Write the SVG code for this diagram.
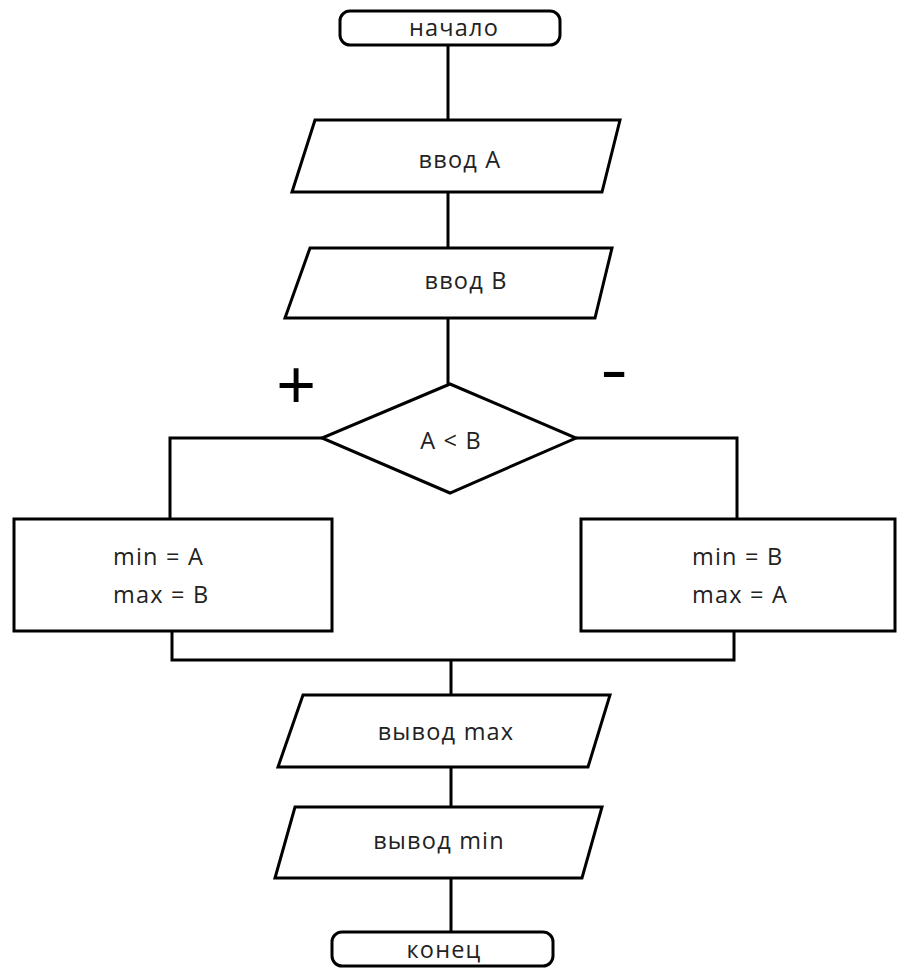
<svg xmlns="http://www.w3.org/2000/svg" width="897" height="971" viewBox="0 0 897 971">
<style>
.s{fill:#fff;stroke:#000;stroke-width:3;stroke-linejoin:miter}
.c{fill:none;stroke:#000;stroke-width:3}
.t{font-family:"Open Sans","Noto Sans",sans-serif;font-size:23.5px;letter-spacing:1.2px;fill:#222;text-anchor:middle}
.l{font-family:"Open Sans","Noto Sans",sans-serif;font-size:23.5px;letter-spacing:1.2px;fill:#222}
.m{font-family:"Liberation Sans",Arial,sans-serif;fill:#000;text-anchor:middle}
</style>
<rect width="897" height="971" fill="#fff"/>
<g id="connectors">
<path class="c" d="M448 45V120M448 192V248M448 318V384"/>
<path class="c" d="M322 438H170V519M576 438H737V519"/>
<path class="c" d="M172 631V660H734V631M451 660V695M451 767V807M451 878V932"/>
</g>
<g id="start"><rect class="s" x="340" y="11" width="220" height="34" rx="10"/><text class="t" x="454" y="36">начало</text></g>
<g id="inA"><polygon class="s" points="315,120 620,120 602,192 292,192"/><text class="t" x="460" y="168">ввод A</text></g>
<g id="inB"><polygon class="s" points="310,248 612,248 595,318 285,318"/><text class="t" x="466" y="289">ввод B</text></g>
<g id="cond"><polygon class="s" points="450,384 576,438 450,493 322,438"/><text class="t" x="451" y="449">A &lt; B</text>
<text class="m" x="296" y="408" font-size="68">+</text>
<text class="m" transform="translate(614,392) scale(1.3,1)" x="0" y="0" font-size="64">-</text></g>
<g id="yes"><rect class="s" x="14" y="519" width="318" height="112"/><text class="l" x="113" y="565">min = A</text><text class="l" x="113" y="603">max = B</text></g>
<g id="no"><rect class="s" x="581" y="519" width="314" height="112"/><text class="l" x="692" y="565">min = B</text><text class="l" x="692" y="603">max = A</text></g>
<g id="outMax"><polygon class="s" points="303,695 610,695 588,767 278,767"/><text class="t" x="446" y="740">вывод max</text></g>
<g id="outMin"><polygon class="s" points="295,807 602,807 582,878 275,878"/><text class="t" x="439" y="849">вывод min</text></g>
<g id="end"><rect class="s" x="332" y="932" width="221" height="34" rx="10"/><text class="t" x="444" y="958">конец</text></g>
</svg>
